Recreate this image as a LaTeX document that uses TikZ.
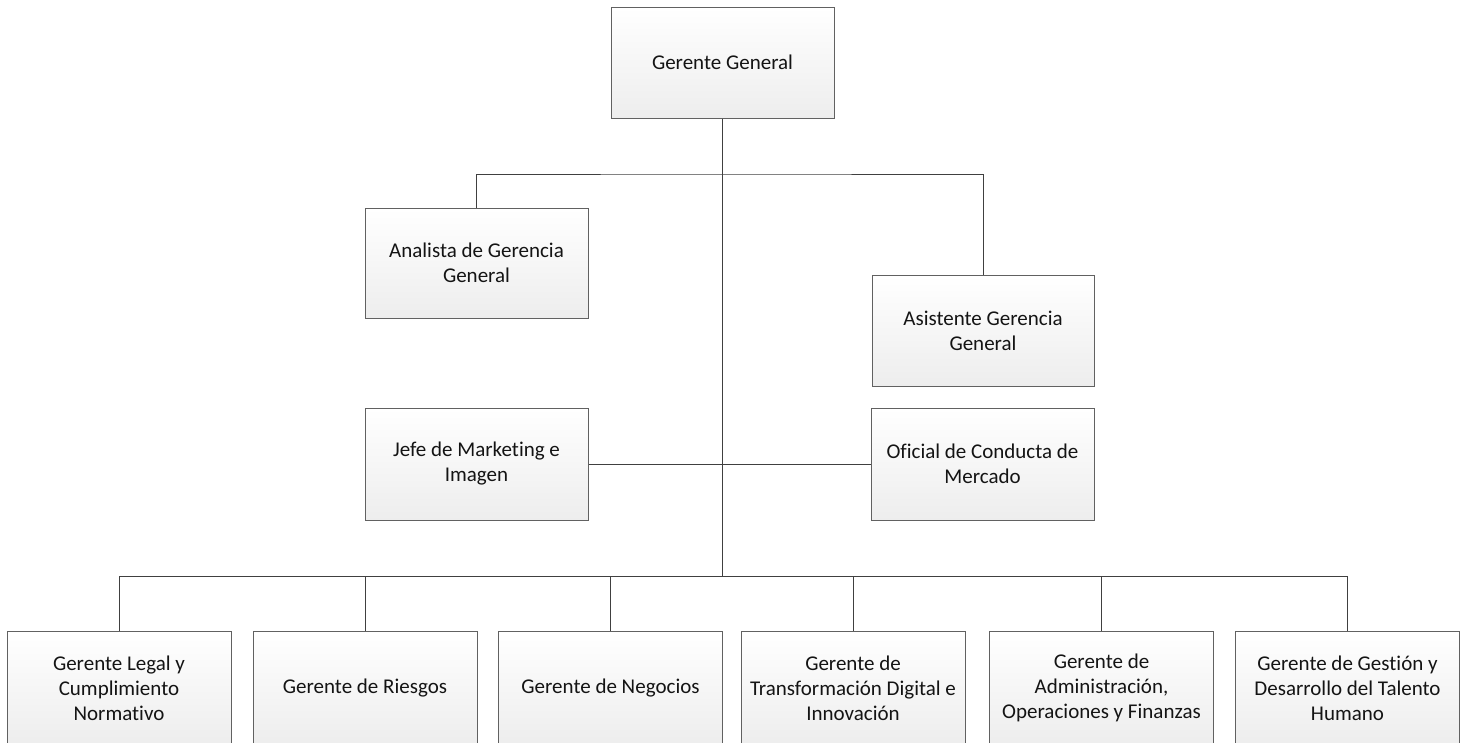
\documentclass[tikz,border=0pt]{standalone}
\usepackage{fontspec}
\setmainfont{Carlito}[Ligatures=NoCommon]
\begin{document}
\begin{tikzpicture}[x=1pt,y=-1pt,
  orgbox/.style={draw=black!62, line width=1pt, top color=white, bottom color=black!7,
    minimum width=223pt, minimum height=111pt, inner sep=2pt, align=center,
    font=\fontsize{21}{25}\selectfont, text=black!92},
  link/.style={draw=black!75, line width=1pt}]
  % page area
  \fill[white] (0,0) rectangle (1469,742);
  \useasboundingbox (0,0) rectangle (1469,742);
  \clip (0,0) rectangle (1469,742);

  % top level
  \node[orgbox] (gg) at (722.5,62.5) {Gerente General};

  % staff positions
  \node[orgbox, minimum height=110pt] (an) at (476.5,263) {Analista de Gerencia\\General};
  \node[orgbox, minimum width=222pt] (as) at (983,330.5) {Asistente Gerencia\\General};
  \node[orgbox, minimum height=112pt] (jm) at (476.5,464) {Jefe de Marketing e\\Imagen};
  \node[orgbox, minimum height=112pt] (oc) at (982.5,464) {Oficial de Conducta de\\Mercado};

  % managers (boxes run past the lower edge)
  \tikzset{mgr/.style={orgbox, minimum width=224pt, minimum height=114pt}}
  \node[mgr] (m1) at (119,688) {Gerente Legal y\\Cumplimiento\\Normativo};
  \node[mgr] (m2) at (365,688) {Gerente de Riesgos};
  \node[mgr] (m3) at (610.5,688) {Gerente de Negocios};
  \node[mgr] (m4) at (853,688) {Gerente de\\Transformación Digital e\\Innovación};
  \node[mgr] (m5) at (1101.5,688) {Gerente de\\Administración,\\Operaciones y Finanzas};
  \node[mgr] (m6) at (1347.5,688) {Gerente de Gestión y\\Desarrollo del Talento\\Humano};

  % junction points on the main trunk
  \coordinate (tb) at (722.5,174);
  \coordinate (bb) at (722.5,576);

  % connectors
  \draw[link] (gg.south) -- (bb);
  \draw[link] (an.north) |- (tb) -| (as.north);
  \draw[link] (jm.east) -- (oc.west);
  \foreach \m in {m1,m2,m3,m4,m5,m6}
    \draw[link] (\m.north) |- (bb);
\end{tikzpicture}
\end{document}
